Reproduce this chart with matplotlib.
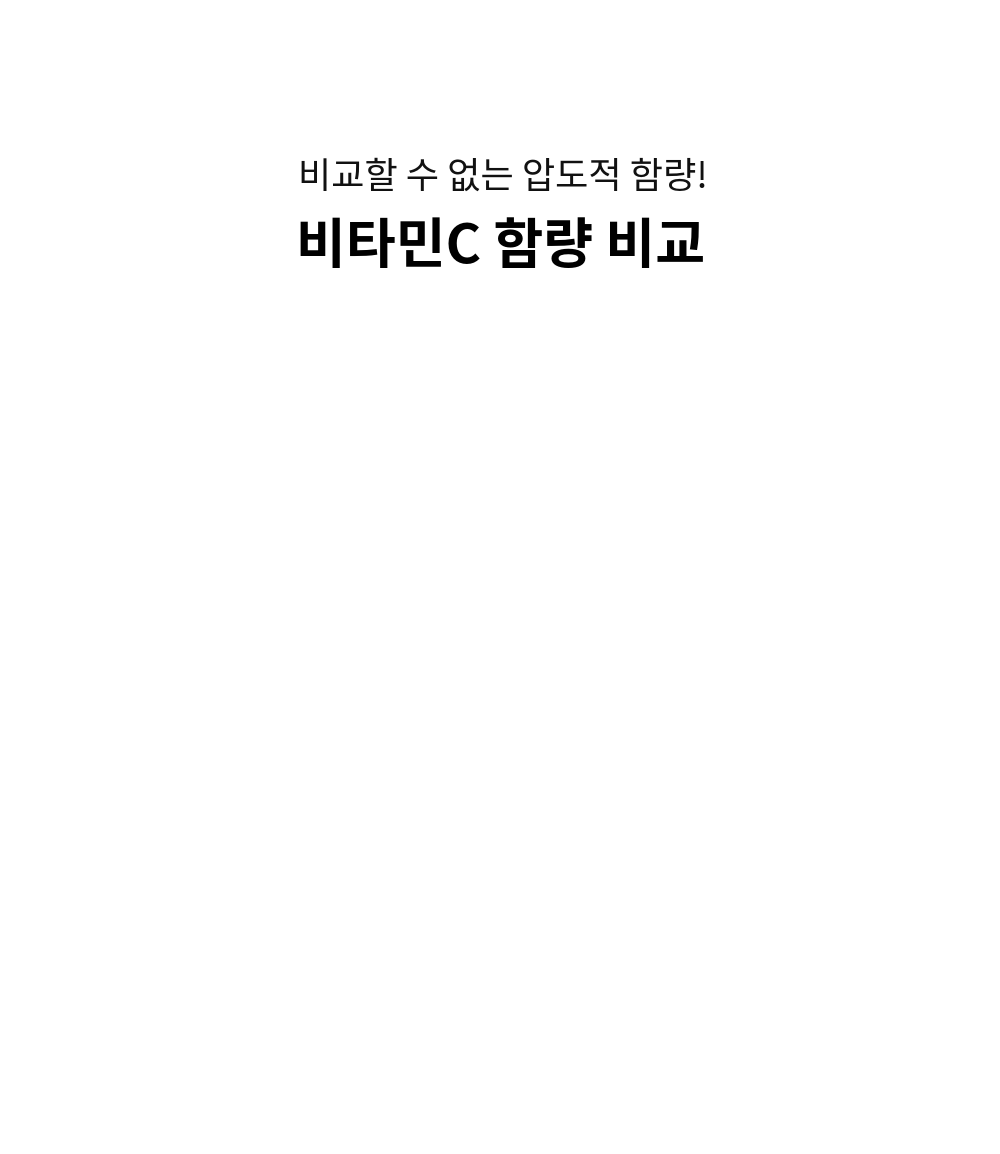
import matplotlib
matplotlib.use("Agg")
import matplotlib.pyplot as plt

plt.rcParams['font.family'] = ['Noto Sans CJK KR', 'DejaVu Sans']

subtitle = "비교할 수 없는 압도적 함량!"
title = "비타민C 함량 비교"

fig = plt.figure(figsize=(10, 11.54), dpi=100)
fig.patch.set_facecolor("white")

fig.text(0.503, 1 - 178 / 1154, subtitle, ha="center", va="center",
         fontsize=26, color="#111111")
fig.text(0.501, 1 - 247 / 1154, title, ha="center", va="center",
         fontsize=39, fontweight="bold", color="#000000")

fig.savefig("out.png", dpi=100, facecolor="white")
